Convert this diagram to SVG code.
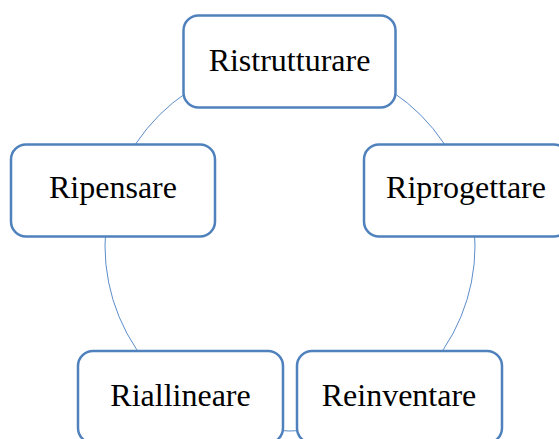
<svg xmlns="http://www.w3.org/2000/svg" width="559" height="439" viewBox="0 0 559 439">
  <style>
    .box { fill: #ffffff; stroke: #4F81BD; stroke-width: 2.5; }
    .label { font-family: "Liberation Serif", "Times New Roman", serif; font-size: 32px; fill: #000000; text-anchor: middle; }
    .ring { fill: none; stroke: #5B8CC8; stroke-width: 1; }
  </style>
  <rect width="559" height="439" fill="#ffffff"/>

  <!-- connecting cycle behind the nodes -->
  <g id="connectors">
    <circle class="ring" cx="290" cy="246" r="185"/>
  </g>

  <g id="node-ristrutturare">
    <rect class="box" x="183.5" y="15.5" width="212" height="92" rx="15"/>
    <text class="label" x="289.5" y="70.7">Ristrutturare</text>
  </g>

  <g id="node-riprogettare">
    <rect class="box" x="364" y="144.5" width="205" height="92" rx="15"/>
    <text class="label" x="466" y="198.3">Riprogettare</text>
  </g>

  <g id="node-reinventare">
    <rect class="box" x="297" y="351" width="205" height="92" rx="15"/>
    <text class="label" x="399" y="406">Reinventare</text>
  </g>

  <g id="node-riallineare">
    <rect class="box" x="78" y="351" width="205" height="92" rx="15"/>
    <text class="label" x="180.5" y="406">Riallineare</text>
  </g>

  <g id="node-ripensare">
    <rect class="box" x="11" y="144.5" width="204" height="92" rx="15"/>
    <text class="label" x="113" y="198.3">Ripensare</text>
  </g>
</svg>
